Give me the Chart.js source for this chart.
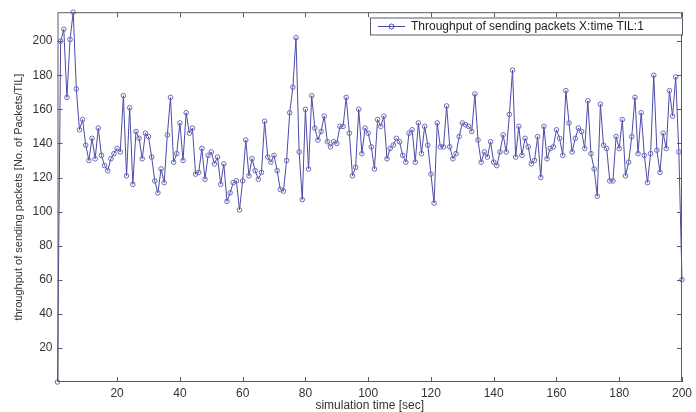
<!DOCTYPE html>
<html>
<head>
<meta charset="utf-8">
<script src="https://cdn.jsdelivr.net/npm/chart.js@4.4.1/dist/chart.umd.min.js"></script>
<style>
  html, body { margin: 0; padding: 0; background: #ffffff; }
  #wrap { width: 696px; height: 412px; position: relative; }
</style>
</head>
<body>
<div id="wrap"><canvas id="chart" width="696" height="412"></canvas></div>
<script>
// ---- Data ----
const seriesLabel = 'Throughput of sending packets X:time TIL:1';
const xTicks = [20, 40, 60, 80, 100, 120, 140, 160, 180, 200];
const yTicks = [20, 40, 60, 80, 100, 120, 140, 160, 180, 200];
const times = Array.from({ length: 200 }, (_, i) => i + 1);   // simulation seconds 1..200
const throughput = [
    0, 200, 207, 167, 201, 217, 172, 148, 154, 139,
  130, 143, 131, 149, 133, 127, 124, 131, 134, 137,
  135, 168, 121, 161, 116, 147, 143, 131, 146, 144,
  132, 118, 111, 125, 117, 145, 167, 129, 134, 152,
  130, 158, 146, 149, 122, 123, 137, 119, 133, 135,
  128, 132, 116, 128, 106, 111, 117, 118, 101, 118,
  142, 121, 131, 124, 119, 123, 153, 132, 129, 133,
  124, 113, 112, 130, 158, 173, 202, 135, 107, 160,
  125, 168, 149, 142, 147, 156, 141, 138, 141, 140,
  150, 150, 167, 146, 121, 126, 160, 134, 149, 146,
  138, 125, 154, 150, 156, 131, 137, 139, 143, 141,
  133, 129, 146, 148, 129, 152, 134, 150, 139, 122,
  105, 152, 138, 138, 162, 138, 131, 134, 144, 152,
  151, 150, 147, 169, 142, 129, 135, 132, 141, 129,
  127, 135, 145, 135, 157, 183, 132, 150, 133, 143,
  138, 128, 130, 144, 120, 150, 131, 137, 138, 148,
  143, 133, 171, 152, 135, 143, 149, 147, 137, 165,
  134, 125, 109, 163, 139, 137, 118, 118, 144, 137,
  154, 121, 129, 144, 167, 134, 158, 133, 117, 134,
  180, 136, 123, 146, 137, 171, 156, 179, 135, 60
];

const LINE = '#4b4ba6';
const AXIS = '#5a5a6a';
const TEXT = '#333333';
const FONT = '"Liberation Sans", Arial, sans-serif';

// ---- Matlab-style box with inward ticks + legend ----
const boxPlugin = {
  id: 'box',
  afterDraw(chart) {
    const { ctx, chartArea: a, scales } = chart;
    ctx.save();
    ctx.strokeStyle = AXIS;
    ctx.lineWidth = 1;
    ctx.strokeRect(a.left + 0.5, a.top + 0.5, a.right - a.left - 1, a.bottom - a.top - 1);
    ctx.beginPath();
    xTicks.forEach(v => {
      const px = Math.round(scales.x.getPixelForValue(v)) + 0.5;
      ctx.moveTo(px, a.bottom); ctx.lineTo(px, a.bottom - 5);
      ctx.moveTo(px, a.top);    ctx.lineTo(px, a.top + 5);
    });
    yTicks.forEach(v => {
      const py = Math.round(scales.y.getPixelForValue(v)) + 0.5;
      ctx.moveTo(a.left, py);  ctx.lineTo(a.left + 5, py);
      ctx.moveTo(a.right, py); ctx.lineTo(a.right - 5, py);
    });
    ctx.stroke();

    // legend box
    const lx = 370, ly = 17.5, lw = 312, lh = 17;
    ctx.fillStyle = '#ffffff';
    ctx.fillRect(lx, ly, lw, lh);
    ctx.strokeStyle = AXIS;
    ctx.strokeRect(lx + 0.5, ly + 0.5, lw, lh);
    const cy = ly + lh / 2 + 0.5;
    ctx.strokeStyle = LINE;
    ctx.beginPath(); ctx.moveTo(378, cy); ctx.lineTo(405, cy); ctx.stroke();
    ctx.beginPath(); ctx.arc(391.5, cy, 2.5, 0, Math.PI * 2); ctx.stroke();
    ctx.fillStyle = '#222222';
    ctx.font = '12px ' + FONT;
    ctx.textBaseline = 'middle';
    ctx.textAlign = 'left';
    ctx.fillText(seriesLabel, 411, cy);
    ctx.restore();
  }
};

new Chart(document.getElementById('chart'), {
  type: 'line',
  data: {
    datasets: [{
      label: seriesLabel,
      data: times.map((t, i) => ({ x: t, y: throughput[i] })),
      borderColor: LINE,
      borderWidth: 1,
      pointRadius: 2.3,
      pointBorderWidth: 1,
      pointBorderColor: '#6a6ab8',
      pointBackgroundColor: 'rgba(255,255,255,0)',
      tension: 0,
      clip: false
    }]
  },
  options: {
    responsive: false,
    animation: false,
    layout: { padding: { top: 12, right: 9, left: 0, bottom: 0 } },
    plugins: { legend: { display: false }, tooltip: { enabled: false } },
    scales: {
      x: {
        type: 'linear', min: 1, max: 200,
        afterBuildTicks: s => { s.ticks = xTicks.map(v => ({ value: v })); },
        afterFit: s => { s.height = 30; },
        grid: { display: false, drawTicks: false },
        border: { display: false },
        ticks: { color: TEXT, font: { family: FONT, size: 12 }, padding: 4, maxRotation: 0, autoSkip: false },
        title: { display: true, text: 'simulation time [sec]', color: TEXT,
                 font: { family: FONT, size: 12, lineHeight: 1 }, padding: { top: 0, bottom: 0 } }
      },
      y: {
        min: 0, max: 217,
        afterBuildTicks: s => { s.ticks = yTicks.map(v => ({ value: v })); },
        afterFit: s => { s.width = 57.5; },
        grid: { display: false, drawTicks: false },
        border: { display: false },
        ticks: { color: TEXT, font: { family: FONT, size: 12 }, padding: 5, autoSkip: false },
        title: { display: true, text: 'throughput of sending packets [No. of Packets/TIL]', color: TEXT,
                 font: { family: FONT, size: 11, lineHeight: 1 }, padding: { top: 13, bottom: 0 } }
      }
    }
  },
  plugins: [boxPlugin]
});
</script>
</body>
</html>
